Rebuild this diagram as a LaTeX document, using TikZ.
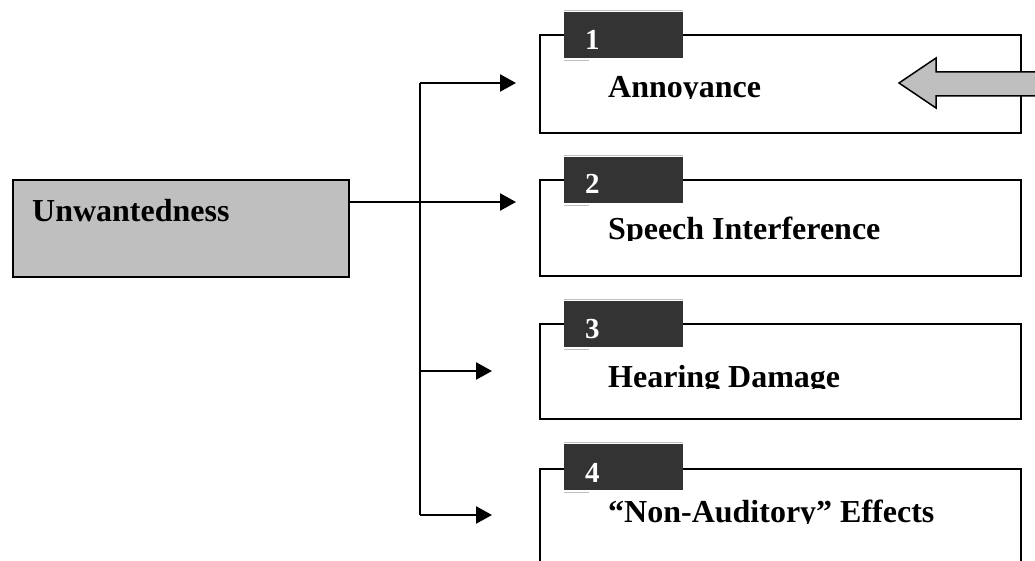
\documentclass[tikz,border=0pt]{standalone}
\usepackage{fontspec}
\setmainfont{Liberation Serif}
\usetikzlibrary{arrows.meta}
\definecolor{boxgray}{RGB}{191,191,191}
\definecolor{tabdark}{RGB}{51,51,51}

\begin{document}
\begin{tikzpicture}[x=1pt,y=-1pt,
   frame/.style={draw,line width=2pt,inner sep=0pt,anchor=north west,minimum width=481pt},
   tab/.style={fill=tabdark,inner sep=0pt,anchor=north west,minimum width=119pt,minimum height=46pt},
   tabedge/.style={black!25,line width=0.8pt},
   numlabel/.style={white,font=\bfseries\fontsize{29}{32}\selectfont,anchor=base west,inner sep=0pt},
   boxlabel/.style={font=\bfseries\fontsize{32}{36}\selectfont,anchor=base west,inner sep=0pt},
   trunk/.style={line width=2.5pt},
   link/.style={line width=2.5pt,-{Triangle[length=16pt,width=17pt]}}]
   \useasboundingbox (0,0) rectangle (1035,561);
   \clip (0,0) rectangle (1035,561);

   % source box
   \node[draw,fill=boxgray,line width=2pt,inner sep=0pt,anchor=north west,
         minimum width=336pt,minimum height=97pt] (unw) at (12,179) {};
   \node[boxlabel] (unwtext) at (32,222) {Unwantedness};

   % target boxes
   \node[frame,minimum height=98pt] (box1) at (539,34) {};
   \node[frame,minimum height=96pt] (box2) at (539,179) {};
   \node[frame,minimum height=95pt] (box3) at (539,323) {};
   \node[frame,minimum height=140pt] (box4) at (539,468) {};

   % number tabs
   \node[tab] (tab1) at (564,12) {};
   \node[tab] (tab2) at (564,157) {};
   \node[tab] (tab3) at (564,301) {};
   \node[tab] (tab4) at (564,444) {};
   \draw[tabedge] ([yshift=2pt]tab1.north west) -- ([yshift=2pt]tab1.north east);
   \draw[tabedge] ([yshift=-2pt]tab1.south west) -- ++(25,0);
   \draw[tabedge] ([yshift=2pt]tab2.north west) -- ([yshift=2pt]tab2.north east);
   \draw[tabedge] ([yshift=-2pt]tab2.south west) -- ++(25,0);
   \draw[tabedge] ([yshift=2pt]tab3.north west) -- ([yshift=2pt]tab3.north east);
   \draw[tabedge] ([yshift=-2pt]tab3.south west) -- ++(25,0);
   \draw[tabedge] ([yshift=2pt]tab4.north west) -- ([yshift=2pt]tab4.north east);
   \draw[tabedge] ([yshift=-2pt]tab4.south west) -- ++(25,0);
   \node[numlabel] (num1) at (585,50) {1};
   \node[numlabel] (num2) at (585,194) {2};
   \node[numlabel] (num3) at (585,338) {3};
   \node[numlabel] (num4) at (585,482) {4};

   % labels, cut at the baseline
   \begin{scope}
      \clip (539,34) rectangle (1020,99);
      \node[boxlabel] (lab1) at (608,98) {Annoyance};
   \end{scope}
   \begin{scope}
      \clip (539,179) rectangle (1020,241);
      \node[boxlabel] (lab2) at (608,240) {Speech Interference};
   \end{scope}
   \begin{scope}
      \clip (539,323) rectangle (1020,388);
      \node[boxlabel] (lab3) at (608,387) {Hearing Damage};
   \end{scope}
   \begin{scope}
      \clip (539,468) rectangle (1020,523);
      \node[boxlabel] (lab4) at (608,522) {“Non-Auditory” Effects};
   \end{scope}

   % connectors
   \coordinate (out) at (348,202);
   \coordinate (fork1) at (420,83);
   \coordinate (fork3) at (420,371);
   \coordinate (fork4) at (420,515);
   \coordinate (in1) at (516,83);
   \coordinate (in2) at (516,202);
   \coordinate (in3) at (492,371);
   \coordinate (in4) at (492,515);
   \draw[trunk] (fork1) -- (fork4);
   \draw[link] (fork1) -- (in1);
   \draw[link] (out) -- (in2);
   \draw[link] (fork3) -- (in3);
   \draw[link] (fork4) -- (in4);

   % pointer arrow
   \draw[line width=1.5pt,fill=boxgray] (1045,72) -- (936,72) -- (936,58) -- (899,83)
      -- (936,108) -- (936,96) -- (1045,96) -- cycle;
\end{tikzpicture}
\end{document}
